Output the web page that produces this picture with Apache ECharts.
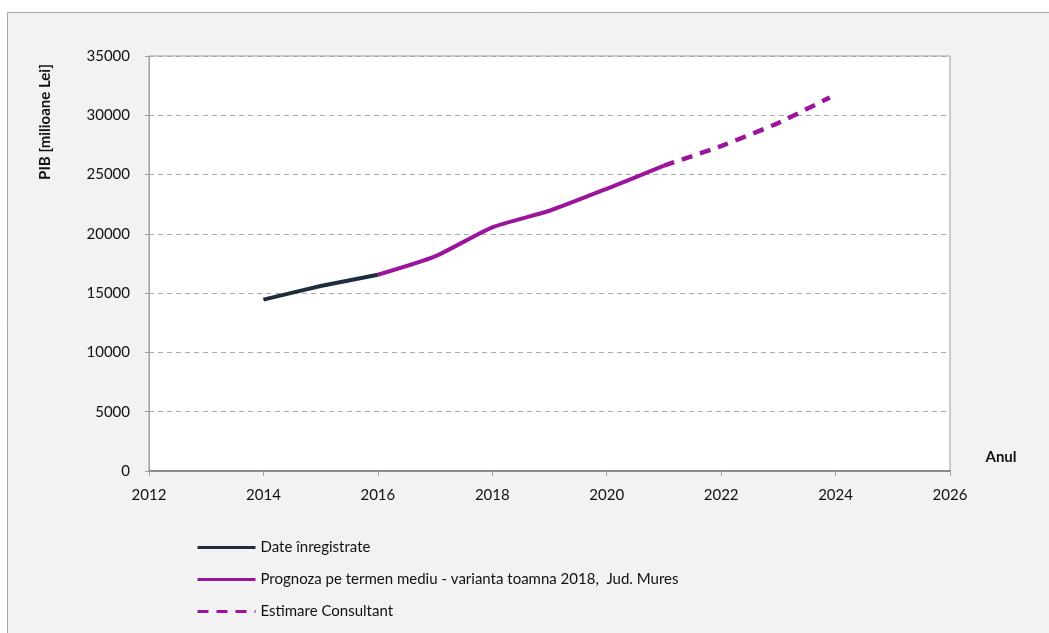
<!DOCTYPE html>
<html><head><meta charset="utf-8">
<script src="https://cdn.jsdelivr.net/npm/echarts@6/dist/echarts.min.js"></script>
<style>html,body{margin:0;padding:0;background:#fff}#c{width:1049px;height:633px}</style>
</head><body><div id="c"></div>
<script>
// Data
const yearsRecorded = [2014, 2015, 2016];
const valuesRecorded = [14450, 15600, 16550];
const yearsForecast = [2016, 2017, 2018, 2019, 2020, 2021];
const valuesForecast = [16550, 18100, 20550, 21950, 23800, 25750];
const yearsEstimate = [2021, 2022, 2023, 2023.9];
const valuesEstimate = [25750, 27400, 29350, 31500];
const seriesNames = ['Date înregistrate', 'Prognoza pe termen mediu - varianta toamna 2018,  Jud. Mures', 'Estimare Consultant'];
const yAxisTitle = 'PIB [milioane Lei]';
const xAxisTitle = 'Anul';

const zip = (xs, ys) => xs.map((x, i) => [x, ys[i]]);
const font = 'Lato, "Open Sans", sans-serif';
const navy = '#1e2c3e', purple = '#9a159c';

const chart = echarts.init(document.getElementById('c'), null, {renderer: 'canvas'});
chart.setOption({
  animation: false,
  backgroundColor: '#ffffff',
  graphic: [
    {type: 'rect', z: -10, silent: true, shape: {x: 7.5, y: 12.5, width: 1060, height: 640},
     style: {fill: '#f2f2f2', stroke: '#a6a6a6', lineWidth: 1}},
    {type: 'text', x: 45, y: 122, rotation: Math.PI / 2,
     style: {text: yAxisTitle, font: 'bold 15px ' + font, fill: '#111', align: 'center', verticalAlign: 'middle'}},
    {type: 'text', x: 1001, y: 457,
     style: {text: xAxisTitle, font: 'bold 15px ' + font, fill: '#111', align: 'center', verticalAlign: 'middle'}}
  ],
  grid: {left: 149, right: 99, top: 56, bottom: 162, show: true, backgroundColor: '#ffffff',
         borderColor: '#a0a0a0', borderWidth: 1},
  legend: {
    orient: 'vertical', left: 191, top: 535, itemWidth: 58, itemHeight: 12, itemGap: 17,
    itemStyle: {opacity: 0},
    lineStyle: {width: 3},
    textStyle: {fontFamily: font, fontSize: 15, color: '#111'},
    data: seriesNames
  },
  xAxis: {
    type: 'value', min: 2012, max: 2026, interval: 2,
    axisLine: {lineStyle: {color: '#8c8c8c', width: 2}},
    axisTick: {show: true, length: 5, lineStyle: {color: '#a0a0a0'}},
    axisLabel: {fontFamily: font, fontSize: 15, color: '#111', margin: 17, formatter: v => String(v)},
    splitLine: {show: false}
  },
  yAxis: {
    type: 'value', min: 0, max: 35000, interval: 5000,
    axisLine: {show: true, lineStyle: {color: '#a0a0a0', width: 1}},
    axisTick: {show: true, length: 4, lineStyle: {color: '#a0a0a0'}},
    axisLabel: {fontFamily: font, fontSize: 15, color: '#111', margin: 19, formatter: v => String(v)},
    splitLine: {show: true, lineStyle: {color: '#aaaaaa', type: [5, 4], width: 1}}
  },
  series: [
    {name: seriesNames[0], type: 'line', data: zip(yearsRecorded, valuesRecorded), showSymbol: false, symbol: 'none',
     smooth: 0.15, lineStyle: {color: navy, width: 4}, itemStyle: {color: navy}, z: 3},
    {name: seriesNames[1], type: 'line', data: zip(yearsForecast, valuesForecast), showSymbol: false, symbol: 'none',
     smooth: 0.2, lineStyle: {color: purple, width: 4}, itemStyle: {color: purple}, z: 2},
    {name: seriesNames[2], type: 'line', data: zip(yearsEstimate, valuesEstimate), showSymbol: false, symbol: 'none',
     smooth: 0.1, lineStyle: {color: purple, width: 4.5, type: [11, 8]}, itemStyle: {color: purple}, z: 2}
  ]
});
</script></body></html>
